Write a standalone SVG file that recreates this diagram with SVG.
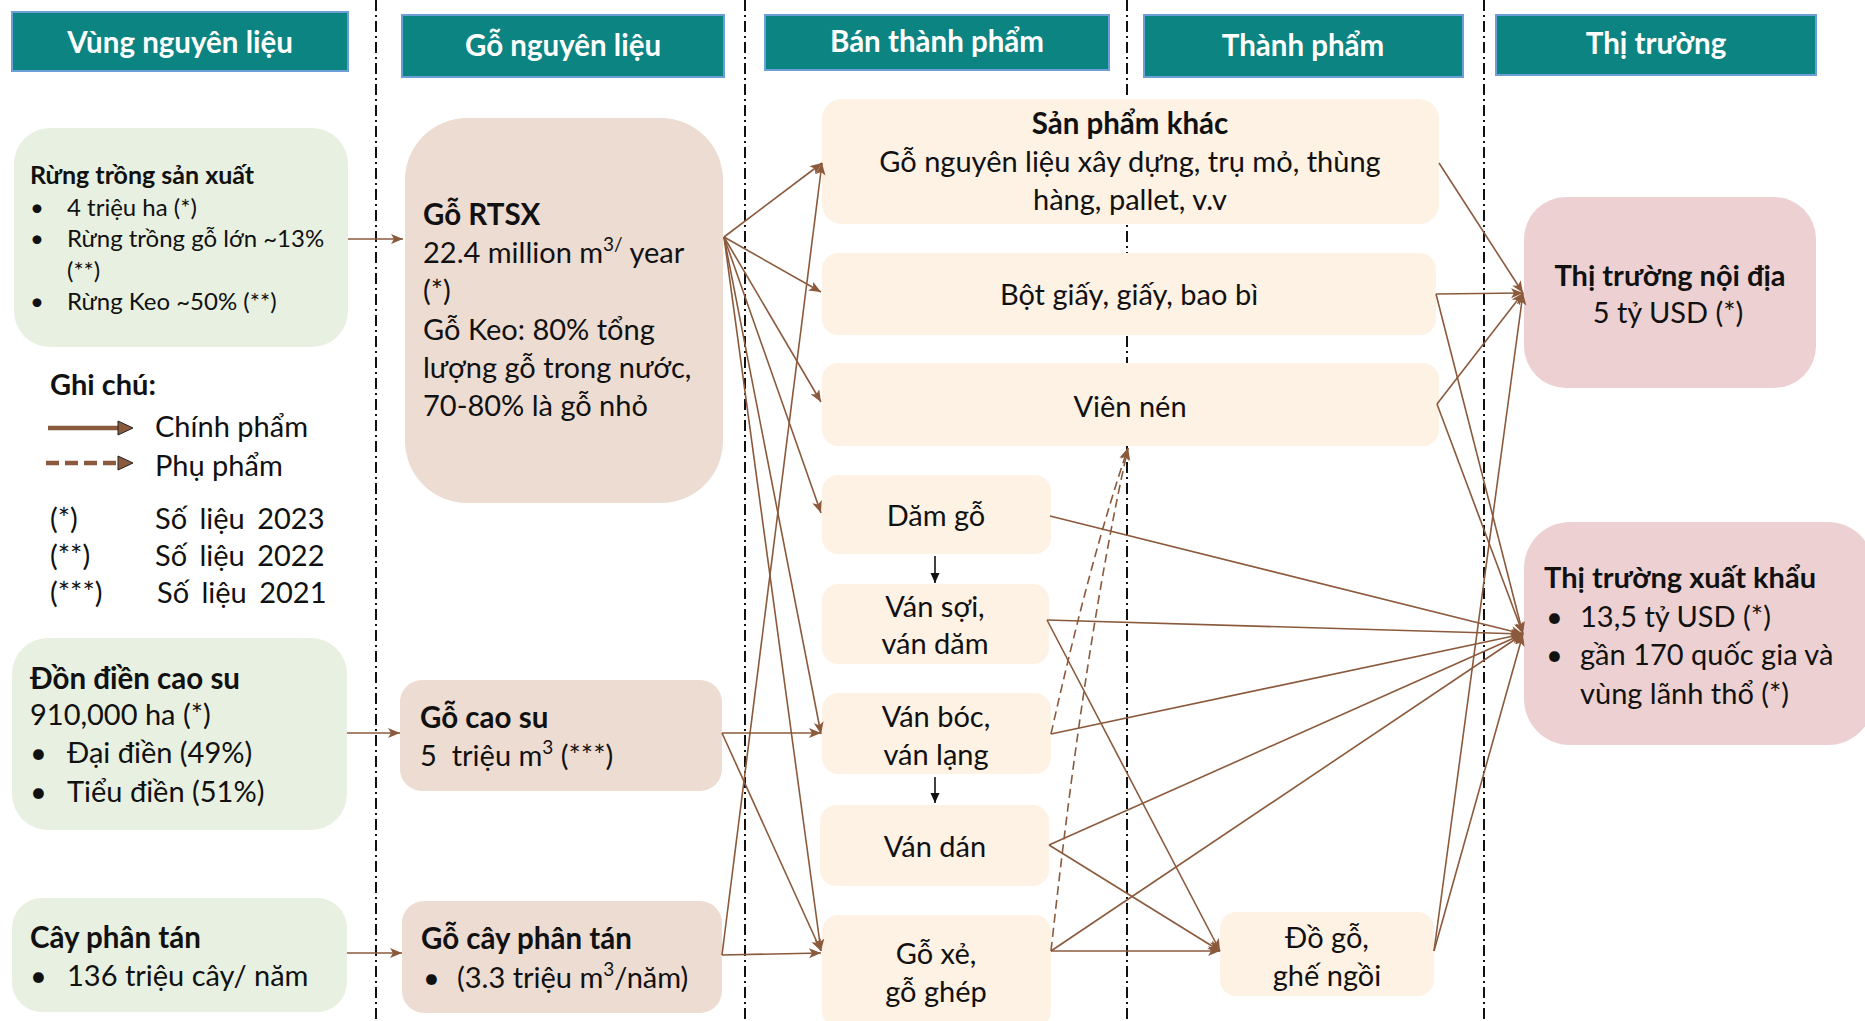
<svg xmlns="http://www.w3.org/2000/svg" width="1865" height="1021" viewBox="0 0 1865 1021">
<defs>
<style>
text{font-family:Lato,"Liberation Sans",sans-serif;fill:#111}
.b{font-weight:bold}
.hdr{fill:#0C8482;stroke:#6C9FD6;stroke-width:2}
.ht{fill:#fff;font-weight:bold;font-size:29.5px;text-anchor:middle}
.g{fill:#E8F0E1}.w{fill:#EDDCD2}.c{fill:#FEF2E5}.m{fill:#EDD1D2}
.s24{font-size:24px}.s25{font-size:25px}.s29{font-size:29px}.s30{font-size:29.5px}
.mid{text-anchor:middle}
.dd{stroke:#111;stroke-width:2;stroke-dasharray:11 4 2 4;fill:none}
.cn{stroke:#8B5A3C;stroke-width:1.6;fill:none;marker-end:url(#ah)}
.dsh{stroke:#8B5A3C;stroke-width:1.6;fill:none;stroke-dasharray:9 5;marker-end:url(#ah)}
.bk{stroke:#111;stroke-width:1.6;fill:none;marker-end:url(#ak)}
</style>
<marker id="ah" markerUnits="userSpaceOnUse" markerWidth="13" markerHeight="11" refX="12" refY="5" orient="auto">
<path d="M0,0 L12,5 L0,10 L3,5 z" fill="#8B5A3C"/>
</marker>
<marker id="ak" markerUnits="userSpaceOnUse" markerWidth="11" markerHeight="10" refX="10" refY="4.5" orient="auto">
<path d="M0,0 L10,4.5 L0,9 z" fill="#111"/>
</marker>
</defs>
<rect width="1865" height="1021" fill="#fff"/>

<g id="separators">
<line class="dd" x1="376" y1="0" x2="376" y2="1021"/>
<line class="dd" x1="745" y1="0" x2="745" y2="1021"/>
<line class="dd" x1="1127" y1="0" x2="1127" y2="1021"/>
<line class="dd" x1="1484" y1="0" x2="1484" y2="1021"/>
</g>

<g id="headers">
<g id="h-vung"><rect class="hdr" x="12" y="12" width="336" height="59"/><text class="ht" x="180" y="53">Vùng nguyên liệu</text></g>
<g id="h-go"><rect class="hdr" x="402" y="15" width="322" height="62"/><text class="ht" x="563" y="56">Gỗ nguyên liệu</text></g>
<g id="h-btp"><rect class="hdr" x="765" y="15" width="344" height="55"/><text class="ht" x="937" y="52">Bán thành phẩm</text></g>
<g id="h-tp"><rect class="hdr" x="1144" y="15" width="319" height="62"/><text class="ht" x="1303" y="56">Thành phẩm</text></g>
<g id="h-tt"><rect class="hdr" x="1496" y="15" width="320" height="60"/><text class="ht" x="1656" y="54">Thị trường</text></g>
</g>

<g id="n-rung">
<rect class="g" x="14" y="128" width="334" height="219" rx="36"/>
<text class="s25 b" x="30" y="184">Rừng trồng sản xuất</text>
<text class="s24" x="30" y="216">•</text><text class="s24" x="67" y="216">4 triệu ha (*)</text>
<text class="s24" x="30" y="247">•</text><text class="s24" x="67" y="247">Rừng trồng gỗ lớn ~13%</text>
<text class="s24" x="67" y="279">(**)</text>
<text class="s24" x="30" y="310">•</text><text class="s24" x="67" y="310">Rừng Keo ~50% (**)</text>
</g>

<g id="legend">
<text class="b" font-size="29" x="50" y="395">Ghi chú:</text>
<line x1="48" y1="428" x2="122" y2="428" stroke="#8B5A3C" stroke-width="4.5"/>
<path d="M118,421 L133,428 L118,435 z" fill="#8B5A3C" stroke="#222" stroke-width="1"/>
<text class="s29" x="155" y="437">Chính phẩm</text>
<line x1="46" y1="463" x2="122" y2="463" stroke="#8B5A3C" stroke-width="4.5" stroke-dasharray="13 6"/>
<path d="M118,456 L133,463 L118,470 z" fill="#8B5A3C" stroke="#222" stroke-width="1"/>
<text class="s29" x="155" y="476">Phụ phẩm</text>
<text class="s29" x="50" y="529">(*)</text><text class="s29" x="155" y="529" word-spacing="5">Số liệu 2023</text>
<text class="s29" x="50" y="566">(**)</text><text class="s29" x="155" y="566" word-spacing="5">Số liệu 2022</text>
<text class="s29" x="50" y="603">(***)</text><text class="s29" x="157" y="603" word-spacing="5">Số liệu 2021</text>
</g>

<g id="n-caosu">
<rect class="g" x="12" y="638" width="335" height="192" rx="36"/>
<text class="s30 b" x="30" y="689">Đồn điền cao su</text>
<text class="s29" x="30" y="725">910,000 ha (*)</text>
<text class="s29" x="30" y="763">•</text><text class="s29" x="67" y="763">Đại điền (49%)</text>
<text class="s29" x="30" y="802">•</text><text class="s29" x="67" y="802">Tiểu điền (51%)</text>
</g>

<g id="n-phantan">
<rect class="g" x="12" y="898" width="335" height="114" rx="30"/>
<text class="s30 b" x="30" y="948">Cây phân tán</text>
<text class="s29" x="30" y="986">•</text><text class="s29" x="67" y="986">136 triệu cây/ năm</text>
</g>

<g id="n-rtsx">
<rect class="w" x="405" y="118" width="318" height="385" rx="62"/>
<text class="s30 b" x="423" y="225">Gỗ RTSX</text>
<text class="s29" x="423" y="263">22.4 million m<tspan dy="-12" font-size="19">3/</tspan><tspan dy="12"> year</tspan></text>
<text class="s29" x="423" y="301">(*)</text>
<text class="s29" x="423" y="340">Gỗ Keo: 80% tổng</text>
<text class="s29" x="423" y="378">lượng gỗ trong nước,</text>
<text class="s29" x="423" y="416">70-80% là gỗ nhỏ</text>
</g>

<g id="n-gocaosu">
<rect class="w" x="400" y="680" width="322" height="111" rx="22"/>
<text class="s30 b" x="420" y="728">Gỗ cao su</text>
<text class="s29" x="420" y="766" xml:space="preserve">5  triệu m<tspan dy="-12" font-size="19">3</tspan><tspan dy="12"> (***)</tspan></text>
</g>

<g id="n-gophantan">
<rect class="w" x="402" y="901" width="320" height="112" rx="22"/>
<text class="s30 b" x="421" y="949">Gỗ cây phân tán</text>
<text class="s29" x="423" y="988">•</text><text class="s29" x="457" y="988">(3.3 triệu m<tspan dy="-12" font-size="19">3</tspan><tspan dy="12">/năm)</tspan></text>
</g>

<g id="n-spk">
<rect class="c" x="822" y="99" width="617" height="125" rx="20"/>
<text class="s30 b mid" x="1130" y="134">Sản phẩm khác</text>
<text class="s29 mid" x="1130" y="172">Gỗ nguyên liệu xây dựng, trụ mỏ, thùng</text>
<text class="s29 mid" x="1130" y="210">hàng, pallet, v.v</text>
</g>
<g id="n-botgiay">
<rect class="c" x="822" y="253" width="614" height="82" rx="16"/>
<text class="s29 mid" x="1129" y="305">Bột giấy, giấy, bao bì</text>
</g>
<g id="n-viennen">
<rect class="c" x="822" y="363" width="617" height="83" rx="16"/>
<text class="s29 mid" x="1130" y="417">Viên nén</text>
</g>
<g id="n-damgo">
<rect class="c" x="822" y="475" width="229" height="79" rx="16"/>
<text class="s29 mid" x="936" y="526">Dăm gỗ</text>
</g>
<g id="n-vansoi">
<rect class="c" x="822" y="584" width="227" height="80" rx="16"/>
<text class="s29 mid" x="935" y="617">Ván sợi,</text>
<text class="s29 mid" x="935" y="654">ván dăm</text>
</g>
<g id="n-vanboc">
<rect class="c" x="822" y="693" width="229" height="81" rx="16"/>
<text class="s29 mid" x="936" y="727">Ván bóc,</text>
<text class="s29 mid" x="936" y="765">ván lạng</text>
</g>
<g id="n-vandan">
<rect class="c" x="820" y="805" width="229" height="81" rx="16"/>
<text class="s29 mid" x="935" y="857">Ván dán</text>
</g>
<g id="n-goxe">
<rect class="c" x="822" y="915" width="229" height="112" rx="16"/>
<text class="s29 mid" x="936" y="964">Gỗ xẻ,</text>
<text class="s29 mid" x="936" y="1002">gỗ ghép</text>
</g>
<g id="n-dogo">
<rect class="c" x="1220" y="912" width="214" height="84" rx="16"/>
<text class="s29 mid" x="1327" y="948">Đồ gỗ,</text>
<text class="s29 mid" x="1327" y="986">ghế ngồi</text>
</g>

<g id="n-noidia">
<rect class="m" x="1524" y="197" width="292" height="191" rx="42"/>
<text class="s29 b mid" x="1670" y="286">Thị trường nội địa</text>
<text class="s29 mid" x="1668" y="323">5 tỷ USD (*)</text>
</g>
<g id="n-xuatkhau">
<rect class="m" x="1524" y="522" width="350" height="223" rx="46"/>
<text class="s29 b" x="1544" y="588">Thị trường xuất khẩu</text>
<text class="s29" x="1546" y="627">•</text><text class="s29" x="1580" y="627">13,5 tỷ USD (*)</text>
<text class="s29" x="1546" y="665">•</text><text class="s29" x="1580" y="665">gần 170 quốc gia và</text>
<text class="s29" x="1580" y="704">vùng lãnh thổ (*)</text>
</g>

<g id="connectors">
<line class="cn" x1="348" y1="239" x2="403" y2="239"/>
<line class="cn" x1="347" y1="733" x2="400" y2="733"/>
<line class="cn" x1="347" y1="953" x2="402" y2="953"/>

<line class="cn" x1="724" y1="237" x2="822" y2="163"/>
<line class="cn" x1="724" y1="237" x2="821" y2="292"/>
<line class="cn" x1="724" y1="237" x2="821" y2="402"/>
<line class="cn" x1="724" y1="237" x2="821" y2="513"/>
<line class="cn" x1="724" y1="237" x2="821" y2="734"/>
<line class="cn" x1="724" y1="237" x2="821" y2="951"/>
<line class="cn" x1="722" y1="733" x2="821" y2="733"/>
<line class="cn" x1="722" y1="733" x2="821" y2="951"/>
<line class="cn" x1="722" y1="955" x2="821" y2="953"/>
<line class="cn" x1="722" y1="955" x2="822" y2="163"/>

<line class="bk" x1="935" y1="556" x2="935" y2="583"/>
<line class="bk" x1="935" y1="777" x2="935" y2="803"/>

<path class="dsh" d="M1051,734 Q1090,560 1128,448"/>
<path class="dsh" d="M1051,951 Q1085,640 1128,448"/>

<line class="cn" x1="1439" y1="163" x2="1523" y2="293"/>
<line class="cn" x1="1436" y1="294" x2="1523" y2="293"/>
<line class="cn" x1="1437" y1="404" x2="1523" y2="293"/>
<line class="cn" x1="1434" y1="951" x2="1523" y2="293"/>

<line class="cn" x1="1436" y1="294" x2="1523" y2="634"/>
<line class="cn" x1="1437" y1="404" x2="1523" y2="634"/>
<line class="cn" x1="1050" y1="516" x2="1523" y2="634"/>
<line class="cn" x1="1047" y1="620" x2="1523" y2="634"/>
<line class="cn" x1="1051" y1="734" x2="1523" y2="634"/>
<line class="cn" x1="1049" y1="845" x2="1523" y2="634"/>
<line class="cn" x1="1051" y1="951" x2="1523" y2="634"/>
<line class="cn" x1="1434" y1="951" x2="1523" y2="634"/>

<line class="cn" x1="1047" y1="620" x2="1220" y2="951"/>
<line class="cn" x1="1049" y1="845" x2="1220" y2="951"/>
<line class="cn" x1="1051" y1="951" x2="1220" y2="951"/>
</g>
</svg>
